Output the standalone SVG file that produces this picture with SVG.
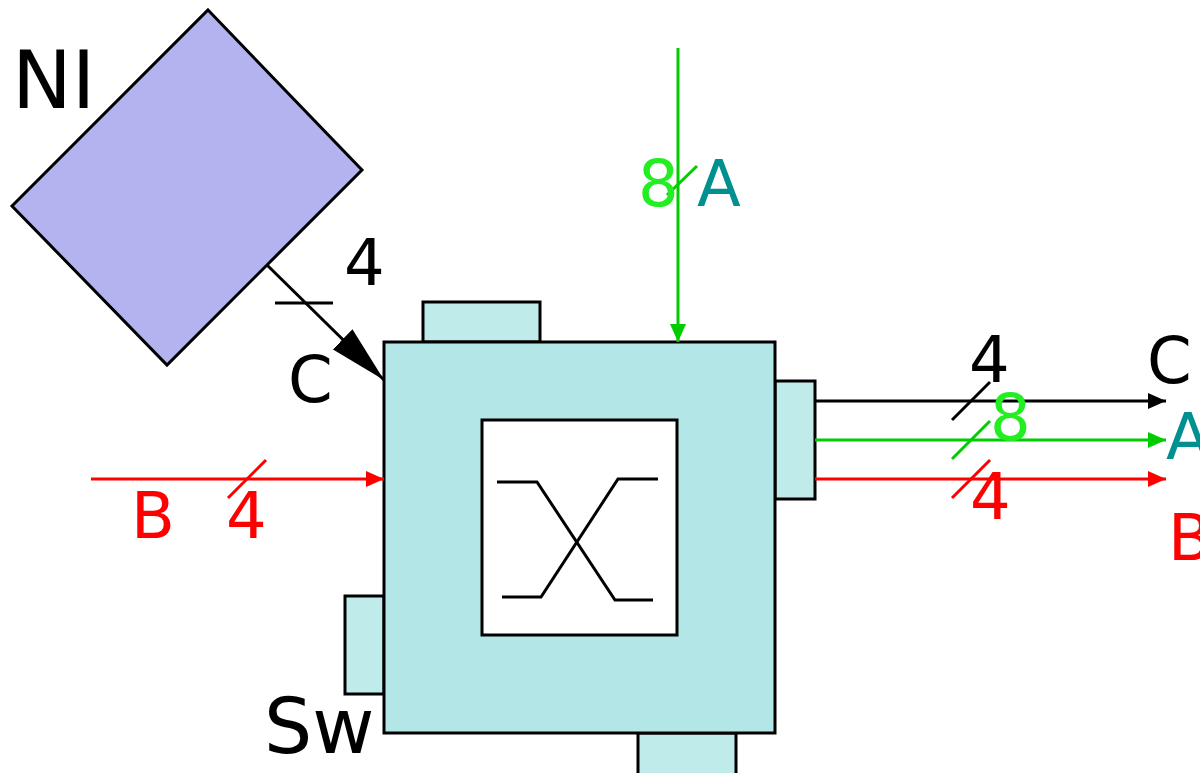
<svg xmlns="http://www.w3.org/2000/svg" width="1200" height="773" viewBox="0 0 1200 773">
<style>
text{font-family:"DejaVu Sans",sans-serif;font-size:64px}
.box{stroke:#000;stroke-width:3}
.tab{fill:#c0ebeb;stroke:#000;stroke-width:3}
.k{stroke:#000;stroke-width:3;fill:none}
.g{stroke:#00cc00;stroke-width:3;fill:none}
.r{stroke:#ff0000;stroke-width:3;fill:none}
</style>
<defs>
<marker id="ak" markerWidth="18" markerHeight="16" refX="18" refY="8" orient="auto" markerUnits="userSpaceOnUse"><path d="M0,0 L18,8 L0,16 Z" fill="#000"/></marker>
<marker id="ag" markerWidth="18" markerHeight="16" refX="18" refY="8" orient="auto" markerUnits="userSpaceOnUse"><path d="M0,0 L18,8 L0,16 Z" fill="#00cc00"/></marker>
<marker id="ar" markerWidth="18" markerHeight="16" refX="18" refY="8" orient="auto" markerUnits="userSpaceOnUse"><path d="M0,0 L18,8 L0,16 Z" fill="#ff0000"/></marker>
<marker id="abig" markerWidth="58" markerHeight="28" refX="58" refY="14" orient="auto" markerUnits="userSpaceOnUse"><path d="M0,0 L58,14 L0,28 Z" fill="#000"/></marker>
</defs>

<g id="NI">
<polygon points="208,10 362,170 167,365 12,206" fill="#b3b3f0" class="box"/>
<text x="12" y="108" style="font-size:80px">NI</text>
</g>

<g id="Sw">
<rect x="423" y="302" width="117" height="40" class="tab"/>
<rect x="775" y="381" width="40" height="118" class="tab"/>
<rect x="345" y="596" width="39" height="98" class="tab"/>
<rect x="638" y="733" width="98" height="42" class="tab"/>
<rect x="384" y="342" width="391" height="391" fill="#b3e6e6" class="box"/>
<rect x="482" y="420" width="195" height="215" fill="#fff" class="box"/>
<polyline points="497,482 537,482 615,600 653,600" class="k"/>
<polyline points="502,597 541,597 618,479 658,479" class="k"/>
<text x="264" y="753" style="font-size:76px">Sw</text>
</g>

<g id="connectors">
<line x1="267" y1="265" x2="384" y2="380" class="k" marker-end="url(#abig)"/>
<line x1="275" y1="303" x2="333" y2="303" class="k"/>
<line x1="678" y1="48" x2="678" y2="342" class="g" marker-end="url(#ag)"/>
<line x1="667" y1="195" x2="697" y2="166" class="g"/>
<line x1="91" y1="479" x2="384" y2="479" class="r" marker-end="url(#ar)"/>
<line x1="228" y1="498" x2="266" y2="460" class="r"/>
<line x1="815" y1="401" x2="1166" y2="401" class="k" marker-end="url(#ak)"/>
<line x1="952" y1="420" x2="990" y2="382" class="k"/>
<line x1="815" y1="440" x2="1166" y2="440" class="g" marker-end="url(#ag)"/>
<line x1="952" y1="459" x2="990" y2="421" class="g"/>
<line x1="815" y1="479" x2="1166" y2="479" class="r" marker-end="url(#ar)"/>
<line x1="952" y1="498" x2="990" y2="460" class="r"/>
</g>

<g id="labels">
<text x="344" y="285">4</text>
<text x="288" y="402">C</text>
<text x="131" y="538" fill="#ff0000">B</text>
<text x="226" y="538" fill="#ff0000">4</text>
<text x="638" y="206" fill="#22ee22">8</text>
<text x="697" y="206" fill="#009090">A</text>
<text x="969" y="382">4</text>
<text x="990" y="440" fill="#22ee22">8</text>
<text x="970" y="519" fill="#ff0000">4</text>
<text x="1147" y="383">C</text>
<text x="1166" y="459" fill="#009090">A</text>
<text x="1168" y="560" fill="#ff0000">B</text>
</g>
</svg>
